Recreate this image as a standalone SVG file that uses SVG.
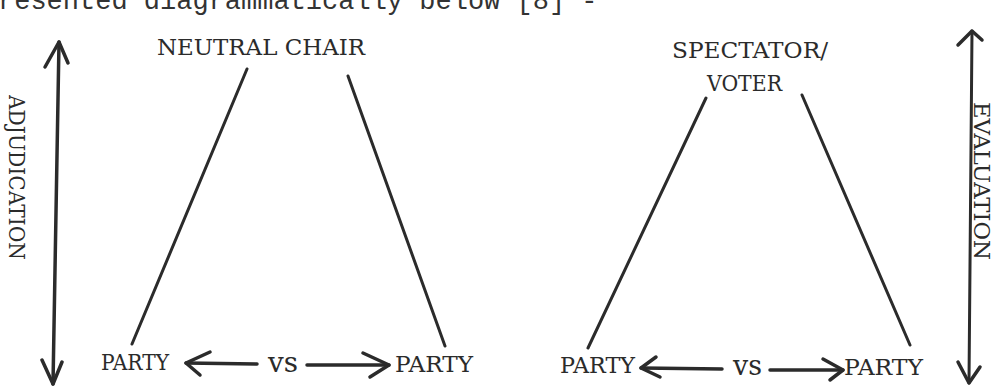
<svg xmlns="http://www.w3.org/2000/svg" width="998" height="386" viewBox="0 0 998 386">
<style>
.t{font-family:"DejaVu Serif","Liberation Serif",serif;font-size:23px;fill:#2b2b2b}
.v{font-family:"DejaVu Serif","Liberation Serif",serif;font-size:27px;fill:#2b2b2b}
.m{font-family:"Liberation Mono","Courier New",monospace;font-size:27px;fill:#333}
.ln{stroke:#2b2b2b;stroke-width:3;stroke-linecap:round;fill:none}
.ar{stroke:#2b2b2b;stroke-width:3.5;stroke-linecap:round;stroke-linejoin:round;fill:none}
</style>
<rect width="998" height="386" fill="#fff"/>
<text class="m" x="-2" y="9">resented diagrammatically below [8] -</text>

<g id="neutral-chair"><text class="t" x="157" y="55" textLength="208" lengthAdjust="spacingAndGlyphs">NEUTRAL CHAIR</text></g>
<g id="party-1"><text class="t" x="101" y="370" textLength="68" lengthAdjust="spacingAndGlyphs">PARTY</text></g>
<g id="vs-1"><text class="v" x="268" y="372" textLength="30" lengthAdjust="spacingAndGlyphs">vs</text></g>
<g id="party-2"><text class="t" x="395" y="372" textLength="78" lengthAdjust="spacingAndGlyphs">PARTY</text></g>

<g id="spectator-voter">
<text class="t" x="672" y="58" textLength="156" lengthAdjust="spacingAndGlyphs">SPECTATOR/</text>
<text class="t" x="707" y="91" textLength="75" lengthAdjust="spacingAndGlyphs">VOTER</text>
</g>
<g id="party-3"><text class="t" x="560" y="373" textLength="75" lengthAdjust="spacingAndGlyphs">PARTY</text></g>
<g id="vs-2"><text class="v" x="733" y="375" textLength="29" lengthAdjust="spacingAndGlyphs">vs</text></g>
<g id="party-4"><text class="t" x="844" y="375" textLength="79" lengthAdjust="spacingAndGlyphs">PARTY</text></g>

<g id="adjudication"><text class="t" transform="translate(9,95) rotate(90)" x="0" y="0" textLength="165" lengthAdjust="spacingAndGlyphs">ADJUDICATION</text></g>
<g id="evaluation"><text class="t" transform="translate(974,102) rotate(90)" x="0" y="0" textLength="158" lengthAdjust="spacingAndGlyphs">EVALUATION</text></g>

<g id="connectors">
<line class="ln" x1="247" y1="69" x2="132" y2="344"/>
<line class="ln" x1="348" y1="76" x2="445" y2="346"/>
<line class="ln" x1="706" y1="98" x2="588" y2="348"/>
<line class="ln" x1="802" y1="95" x2="910" y2="345"/>

<line class="ar" x1="59" y1="42" x2="53" y2="384"/>
<polyline class="ar" points="45,67 59,42 68,63"/>
<polyline class="ar" points="42,360 53,384 62,362"/>

<line class="ar" x1="972" y1="31" x2="969" y2="383" style="stroke-width:3"/>
<polyline class="ar" points="958,45 972,31 982,40"/>
<polyline class="ar" points="958,362 969,383 980,367"/>

<line class="ar" x1="186" y1="363" x2="257" y2="364"/>
<polyline class="ar" points="210,352 186,363 200,375"/>
<line class="ar" x1="307" y1="365" x2="389" y2="365"/>
<polyline class="ar" points="363,353 389,365 370,377"/>

<line class="ar" x1="641" y1="368" x2="722" y2="369"/>
<polyline class="ar" points="656,357 641,368 660,377"/>
<line class="ar" x1="770" y1="370" x2="843" y2="370"/>
<polyline class="ar" points="823,359 843,370 830,380"/>
</g>
</svg>
